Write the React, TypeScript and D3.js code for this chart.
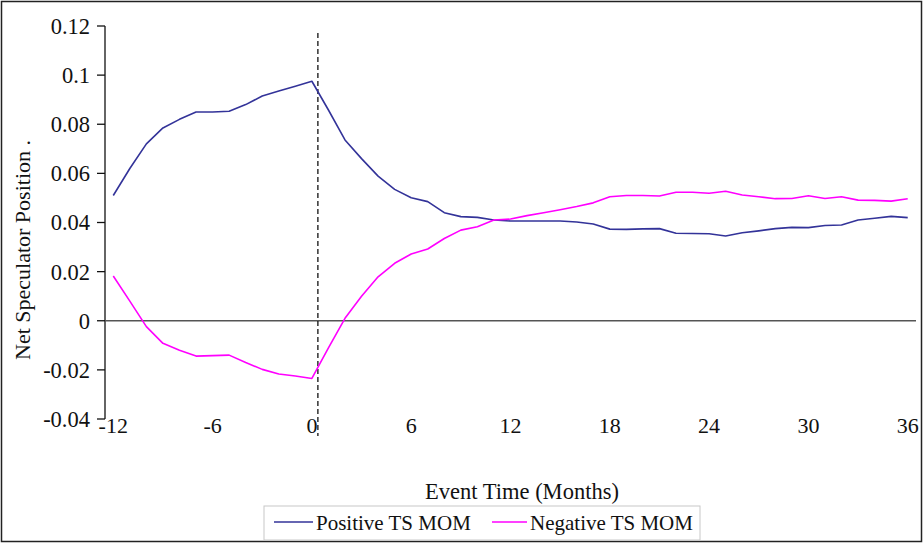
import React from 'react';
import * as d3 from 'd3';

// event months, -12 .. 36
const months: number[] = d3.range(-12, 37);

const positiveTS: number[] = [
  0.051, 0.062, 0.072, 0.0785, 0.082, 0.085, 0.085, 0.0853, 0.088, 0.0915, 0.0935, 0.0955, 0.0975,
  0.0858, 0.0736, 0.066, 0.0589, 0.0535, 0.0501, 0.0485, 0.044, 0.0424, 0.0421, 0.041, 0.0406,
  0.0406, 0.0406, 0.0406, 0.0402, 0.0394, 0.0373, 0.0372, 0.0374, 0.0375, 0.0356, 0.0355, 0.0354,
  0.0345, 0.0358, 0.0366, 0.0375, 0.038, 0.0379, 0.0388, 0.039, 0.041, 0.0417, 0.0425, 0.042,
];

const negativeTS: number[] = [
  0.0182, 0.008, -0.0024, -0.0092, -0.012, -0.0144, -0.0142, -0.014, -0.017, -0.0198, -0.0217, -0.0225, -0.0235,
  -0.011, 0.001, 0.01, 0.0179, 0.0234, 0.0272, 0.0292, 0.0335, 0.0369, 0.0383, 0.041, 0.0414,
  0.0428, 0.044, 0.0452, 0.0465, 0.048, 0.0505, 0.051, 0.051, 0.0508, 0.0523, 0.0523, 0.0519,
  0.0527, 0.0512, 0.0505, 0.0497, 0.0498, 0.0509, 0.0498, 0.0505, 0.0491, 0.049, 0.0487, 0.0497,
];

const yTicks: number[] = [-0.04, -0.02, 0, 0.02, 0.04, 0.06, 0.08, 0.1, 0.12];
const xTickLabels: number[] = [-12, -6, 0, 6, 12, 18, 24, 30, 36];

const seriesNames = ['Positive TS MOM', 'Negative TS MOM'];
const seriesColors = ['#333399', '#ff00ff'];

const W = 924;
const H = 544;
const FONT = '"Liberation Serif"';

const App: React.FC = () => {
  const x = d3.scalePoint<number>().domain(months).range([105, 916]).padding(0.5);
  const y = d3.scaleLinear().domain([-0.04, 0.12]).range([419, 26]);

  const line = d3.line<number>()
    .x((_, i) => x(months[i]) as number)
    .y(d => y(d));

  const fmt = (v: number) => (v === 0 ? '0' : String(+v.toFixed(2)));
  const eventX = (x(0) as number) + 6;
  const txt = { fontFamily: FONT };
  // legend swatch start positions
  const legendX = [274, 492];

  return (
    <svg width={W} height={H} style={{ position: 'absolute', left: 0, top: 0, background: '#fff' }}>
      <rect x={1.5} y={1.5} width={W - 4} height={H - 4} fill="#fff" stroke="#222" strokeWidth={1.5} />

      {/* y axis */}
      <line x1={105} x2={105} y1={y(0.12)} y2={y(-0.04)} stroke="#111" strokeWidth={1.3} />
      {yTicks.map(t => (
        <g key={t}>
          <line x1={97} x2={105} y1={y(t)} y2={y(t)} stroke="#111" strokeWidth={1.3} />
          <text x={90} y={y(t)} dy="0.35em" textAnchor="end" fontSize={22.5} fill="#111" style={txt}>{fmt(t)}</text>
        </g>
      ))}

      {/* zero line */}
      <line x1={105} x2={916} y1={y(0)} y2={y(0)} stroke="#555" strokeWidth={1.6} />

      {/* event line */}
      <line x1={eventX} x2={eventX} y1={33} y2={436} stroke="#111" strokeWidth={1.3} strokeDasharray="5,3" />

      {/* x tick labels */}
      {xTickLabels.map(m => (
        <text key={m} x={x(m)} y={433} textAnchor="middle" fontSize={22} fill="#111" style={txt}>{m}</text>
      ))}

      {/* series */}
      <path d={line(positiveTS) || ''} fill="none" stroke={seriesColors[0]} strokeWidth={1.6} strokeLinejoin="round" />
      <path d={line(negativeTS) || ''} fill="none" stroke={seriesColors[1]} strokeWidth={1.6} strokeLinejoin="round" />

      {/* titles */}
      <text x={522} y={499} textAnchor="middle" fontSize={22.5} fill="#111" style={txt}>Event Time (Months)</text>
      <text transform="translate(30,250) rotate(-90)" textAnchor="middle" fontSize={22} fill="#111" style={txt}>
        Net Speculator Position .
      </text>

      {/* legend */}
      <rect x={264} y={506} width={436} height={34} fill="#fff" stroke="#c8c8c8" strokeWidth={1} />
      {seriesNames.map((name, i) => (
        <g key={name}>
          <line x1={legendX[i]} x2={legendX[i] + (i === 0 ? 39 : 35)} y1={522} y2={522}
            stroke={seriesColors[i]} strokeWidth={1.6} />
          <text x={legendX[i] + (i === 0 ? 42 : 38)} y={530} fontSize={21} fill="#111" style={txt}>{name}</text>
        </g>
      ))}
    </svg>
  );
};

export default App;
